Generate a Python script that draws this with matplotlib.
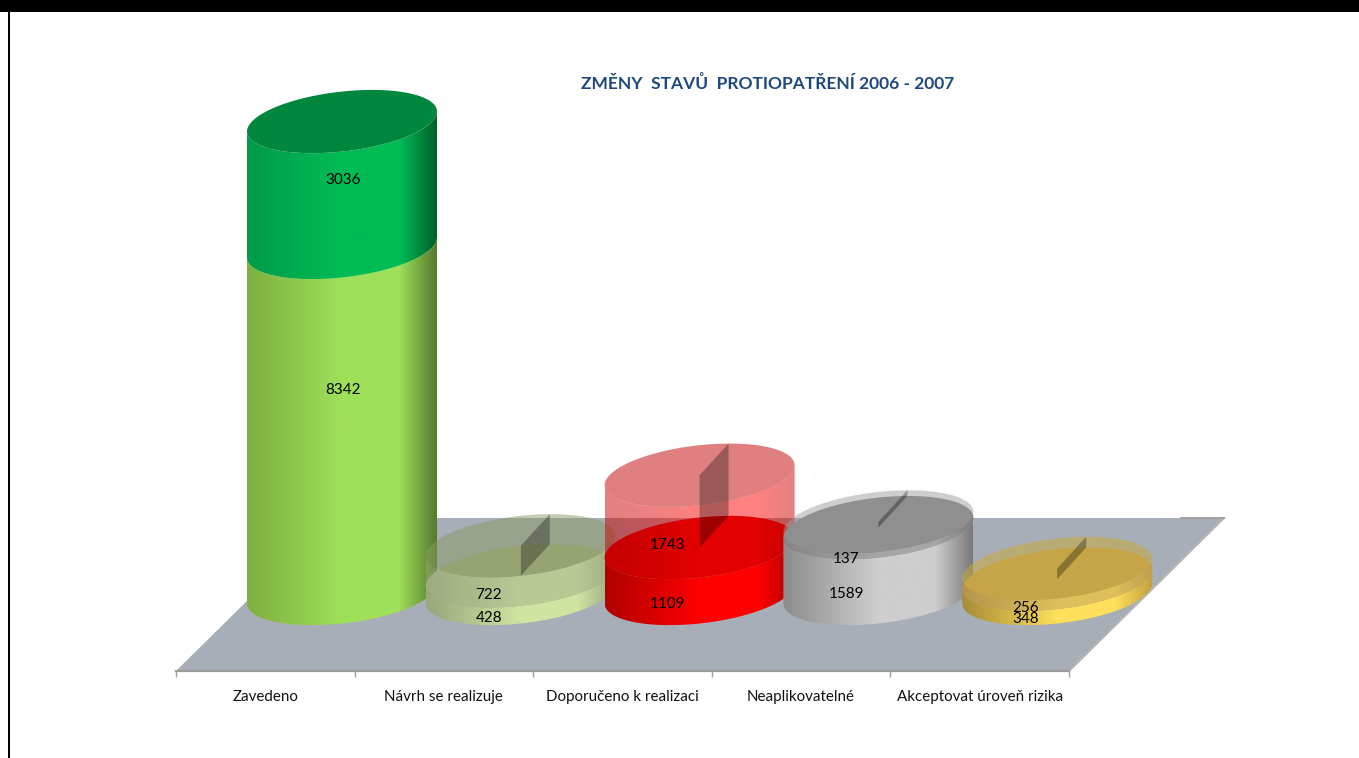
import numpy as np
import matplotlib
matplotlib.use('Agg')
import matplotlib.pyplot as plt
from matplotlib.colors import LinearSegmentedColormap
from matplotlib.patches import PathPatch, Polygon, Rectangle
from matplotlib.path import Path

plt.rcParams['font.family'] = ['Lato', 'DejaVu Sans']

title = 'ZMĚNY  STAVŮ  PROTIOPATŘENÍ 2006 - 2007'
categories = ['Zavedeno', 'Návrh se realizuje', 'Doporučeno k realizaci',
              'Neaplikovatelné', 'Akceptovat úroveň rizika']
lower_values = [8342, 428, 1109, 1589, 348]
upper_values = [3036, 722, 1743, 137, 256]

W, H = 1359, 758
CX0, STEP = 342.0, 178.8      # pixel x of first cylinder, spacing
Y0, PX_PER = 593.5, 0.04148   # pixel y of value 0, pixels per unit

# cylinder shape, in category / value units
A = 95.0 / STEP
B = 30.0 / PX_PER
K = 10.0 / PX_PER

# left, centre, right of the side faces; lower then upper segment
lower_side = [('#7DB040', '#9FE05A', '#567A2D'), ('#98A67C', '#D0E4A2', '#98A67C'),
              ('#B00000', '#FF0000', '#B00000'), ('#8C8C8C', '#CECECE', '#7A7A7A'),
              ('#A88C38', '#FFE05A', '#C0A040')]
upper_side = [('#009A48', '#00BC55', '#00602C'), ('#98A67C', '#D0E4A2', '#98A67C'),
              ('#C00000', '#FF0000', '#C80000'), ('#8C8C8C', '#CECECE', '#7A7A7A'),
              ('#A88C38', '#FFE05A', '#C0A040')]
lower_face = ['#9FE05A', '#A4B088', '#C80000', '#808080', '#C29E5E']
upper_face = ['#00873D', '#8A9A60', '#C00000', '#9E9E9E', '#C8AC32']
upper_alpha = [1.0, 0.5, 0.5, 0.5, 0.5]

# label nudges in pixels
lower_label_off = [(1, -30), (-32, 33), (-32, 34), (-32, 33), (-32, 33)]
upper_label_off = [(1, -5), (-32, 34), (-32, 34), (-32, 34), (-32, 34)]

fig = plt.figure(figsize=(W / 100, H / 100), dpi=100, facecolor='white')

# floor and category axis
floor = fig.add_axes([176 / W, (H - 671) / H, (1069 - 176) / W, 153 / H], zorder=1)
floor.set_xlim(0, 5)
floor.set_ylim(0, 1)
floor.patch.set_visible(False)
depth = 155 / ((1069 - 176) / 5)
floor.add_patch(Polygon([(0, 0), (5, 0), (5 + depth, 1), (depth, 1)], closed=True,
                        facecolor='#A8AEB8', edgecolor='none', clip_on=False))
floor.plot([5, 5 + depth], [0, 1], color='#B4B4B4', lw=1.5, clip_on=False)
floor.plot([5 + depth * 0.72, 5 + depth], [1, 1], color='#989898', lw=1.2, clip_on=False)
for s in ['top', 'left', 'right']:
    floor.spines[s].set_visible(False)
floor.spines['bottom'].set_color('#9C9C9C')
floor.spines['bottom'].set_linewidth(1.6)
floor.set_yticks([])
floor.set_xticks(range(6))
floor.set_xticklabels([])
floor.tick_params(axis='x', which='major', length=4, color='#A0A0A0', width=1)
floor.set_xticks(np.arange(5) + 0.5, minor=True)
floor.set_xticklabels(categories, minor=True, fontsize=10.9, color='#111111')
floor.tick_params(axis='x', which='minor', length=0, pad=14)

# main axes fill the figure: x in category units, y in values
ax = fig.add_axes([0, 0, 1, 1], zorder=2)
ax.patch.set_visible(False)
ax.axis('off')
xlim = (-CX0 / STEP, (W - CX0) / STEP)
ylim = ((Y0 - H) / PX_PER, Y0 / PX_PER)


def arc(cx, v, t0, t1, n=80):
    t = np.linspace(t0, t1, n)
    return np.column_stack((cx + A * np.cos(t), v + B * np.sin(t) + K * np.cos(t)))


def side(cx, v0, v1, colors, z, alpha=1.0):
    pts = np.vstack((arc(cx, v0, np.pi, 2 * np.pi), arc(cx, v1, 2 * np.pi, np.pi)))
    patch = PathPatch(Path(np.vstack((pts, pts[:1])), closed=True), fc='none', ec='none',
                      transform=ax.transData, zorder=z)
    ax.add_patch(patch)
    cmap = LinearSegmentedColormap.from_list('c', [(0, colors[0]), (0.5, colors[1]),
                                                   (0.8, colors[1]), (1, colors[2])])
    grad = np.linspace(0, 1, 256).reshape(1, -1)
    im = ax.imshow(grad, cmap=cmap, aspect='auto', alpha=alpha, zorder=z,
                   extent=(cx - A, cx + A, ylim[0], ylim[1]), interpolation='bilinear')
    im.set_clip_path(patch)


def face(cx, v, color, z, alpha=1.0):
    ax.add_patch(Polygon(arc(cx, v, 0, 2 * np.pi, 160), closed=True, fc=color, ec='none',
                         alpha=alpha, zorder=z))


z = 3
for i in range(len(categories)):
    low, up = lower_values[i], upper_values[i]
    top = low + up
    side(i, 0, low, lower_side[i], z)
    face(i, low, lower_face[i], z + 1)
    side(i, low, top, upper_side[i], z + 2, upper_alpha[i])
    face(i, top, upper_face[i], z + 3, upper_alpha[i])
    if upper_alpha[i] < 1:
        # the cut from the centre of the stack to its back edge
        t = np.arccos(0.305)
        dx, dv = A * np.cos(t), B * np.sin(t) + K * np.cos(t)
        ax.add_patch(Polygon([(i, top), (i + dx, top + dv), (i + dx, low + dv), (i, low)],
                             closed=True, fc='black', ec='none', alpha=0.3, zorder=z + 4))
    z += 5

for i in range(len(categories)):
    low, up = lower_values[i], upper_values[i]
    ax.text(i + lower_label_off[i][0] / STEP, low / 2 - lower_label_off[i][1] / PX_PER, str(low),
            ha='center', va='center', fontsize=11, color='black', zorder=100)
    ax.text(i + upper_label_off[i][0] / STEP, low + up / 2 - upper_label_off[i][1] / PX_PER, str(up),
            ha='center', va='center', fontsize=11, color='black', zorder=100)

ax.set_xlim(xlim)
ax.set_ylim(ylim)

fig.text(767.5 / W, 1 - 83.5 / H, title, ha='center', va='center', fontsize=12.5,
         fontweight='bold', color='#1F497D')

# black frame pieces of the screenshot
fig.add_artist(Rectangle((0, 1 - 12 / H), 1, 12 / H, transform=fig.transFigure, fc='black', ec='none'))
fig.add_artist(Rectangle((8 / W, 0), 2 / W, 1, transform=fig.transFigure, fc='black', ec='none'))

fig.savefig('out.png', dpi=100)
